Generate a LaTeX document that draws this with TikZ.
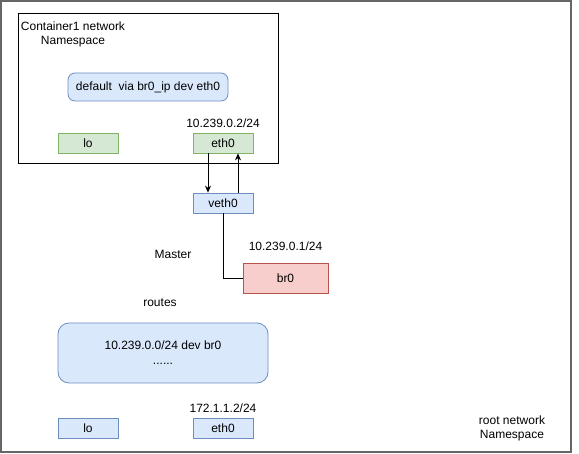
\documentclass[tikz,border=0pt]{standalone}
\usepackage{fontspec}
\setmainfont{Liberation Sans}
\usepackage{tikz}
\usetikzlibrary{arrows.meta, positioning, calc}
\usepackage{xcolor}
\definecolor{rtfill}{HTML}{DAE8FC}
\definecolor{rtline}{HTML}{6C8EBF}
\definecolor{nsfill}{HTML}{D5E8D4}
\definecolor{nsline}{HTML}{82B366}
\definecolor{brfill}{HTML}{F8CECC}
\definecolor{brline}{HTML}{B85450}

\begin{document}
\begin{tikzpicture}[
    x=1pt, y=-1pt,
    font=\fontsize{12}{14}\selectfont,
    iface/.style={
        rectangle, draw=rtline, fill=rtfill, line width=0.8pt,
        minimum width=60pt, minimum height=20pt, inner sep=0pt
    },
    ctiface/.style={
        iface, draw=nsline, fill=nsfill
    },
    bridge/.style={
        iface, draw=brline, fill=brfill,
        minimum width=85pt, minimum height=30pt
    },
    table/.style={
        rectangle, rounded corners=7pt, draw=rtline, fill=rtfill,
        line width=0.8pt, inner sep=0pt, align=center
    },
    lbl/.style={inner sep=0pt, align=center},
    arr/.style={-{Stealth[length=7pt, width=6pt]}, line width=0.8pt},
    link/.style={line width=0.8pt},
]
\useasboundingbox (0,0) rectangle (579,454);

% ── Namespaces ──────
\draw[black!60, line width=1.5pt] (1,1) rectangle (571,452);
\draw[line width=0.8pt] (18,13) rectangle (278,163);
\node[lbl] (ctns) at (73,34) {Container1 network\\Namespace};
\node[lbl] (rootns) at (512,428) {root network\\Namespace};

% ── Container side ──────
\node[table, minimum width=160pt, minimum height=28pt] (ctroute) at (148,87)
    {default\ \ via br0\_ip dev eth0};
\node[ctiface] (ctlo) at (88,143) {lo};
\node[ctiface] (cteth) at (223,143) {eth0};
\node[lbl, above=5pt of cteth] (ctip) {10.239.0.2/24};

% ── Host side ──────
\node[iface] (veth) at (223,203) {veth0};
\node[bridge] (br) at (285.5,278) {br0};
\node[lbl, above=12pt of br] (brip) {10.239.0.1/24};
\node[lbl] (master) at (173,254) {Master};
\node[lbl] (routes) at (160,303) {routes};
\node[table, rounded corners=11pt, minimum width=210pt, minimum height=60pt]
    (hostroute) at (163,353) {10.239.0.0/24 dev br0\\[1pt]......};
\node[iface] (hostlo) at (88,428) {lo};
\node[iface] (hosteth) at (223,428) {eth0};
\node[lbl, above=5pt of hosteth] (hostip) {172.1.1.2/24};

% ── Links ──────
\draw[arr] ([xshift=-15pt]cteth.south) -- ([xshift=-15pt]veth.north);
\draw[arr] ([xshift=15pt]veth.north) -- ([xshift=15pt]cteth.south);
\draw[link] (veth.south) |- (br.west);

\end{tikzpicture}
\end{document}
